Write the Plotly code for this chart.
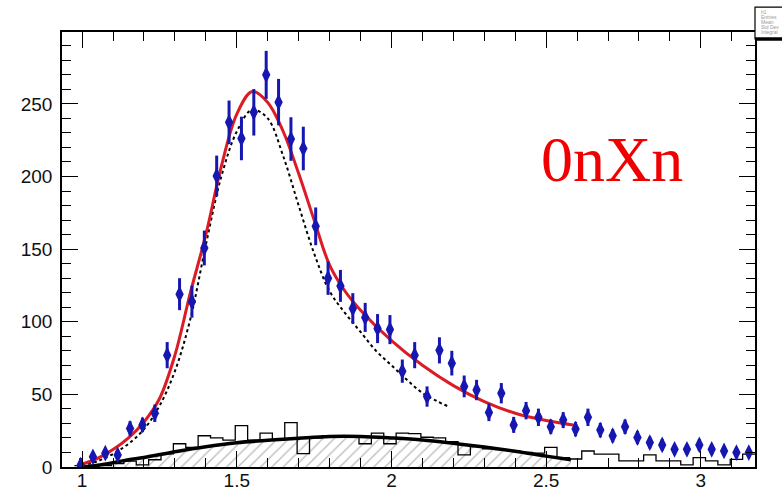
import plotly.graph_objects as go

# ---- measured spectrum (bin width 0.04) ----
bin_centers = [
    0.995, 1.035, 1.075, 1.115, 1.155, 1.195, 1.235, 1.275, 1.315, 1.355,
    1.395, 1.435, 1.475, 1.515, 1.555, 1.595, 1.635, 1.675, 1.715, 1.755,
    1.795, 1.835, 1.875, 1.915, 1.955, 1.995, 2.035, 2.075, 2.115, 2.155,
    2.195, 2.235, 2.275, 2.315, 2.355, 2.395, 2.435, 2.475, 2.515, 2.555,
    2.595, 2.635, 2.675, 2.715, 2.755, 2.795, 2.835, 2.875, 2.915, 2.955,
    2.995, 3.035, 3.075, 3.115, 3.155,
]
bin_width = 0.04

counts = [
    1.2, 7, 9.5, 8.3, 26.5, 29, 37, 77, 119, 113.8,
    150.8, 200.4, 237.3, 226.2, 244.2, 270, 251.2, 225.8, 219.3, 165.7,
    130, 124.7, 109.2, 103, 95.3, 94.6, 66, 77, 48.5, 80.3,
    71.5, 55.5, 53, 37.6, 50.8, 29, 38.8, 34.2, 27.7, 32.3,
    26.1, 34.2, 25.4, 21.5, 27.7, 20.3, 16.8, 15.2, 12.2, 12.2,
    15.2, 12.2, 11.1, 9.9, 9.9,
]
count_errors = [
    5, 3, 3, 3, 5, 5, 6, 9, 11, 11,
    12, 14, 15, 15, 16, 16.5, 16, 15, 15, 13,
    11.5, 11, 10.5, 10, 10, 10, 8, 9, 7, 9,
    8.5, 7.5, 7, 6, 7, 5.5, 6, 6, 5, 5.5,
    5, 6, 5, 4.5, 5, 4.5, 4, 4, 3.5, 3.5,
    4, 3.5, 3.3, 3.2, 3.2,
]

# ---- background template histogram (same binning) ----
template = [
    1, 0.5, 1, 2.3, 4, 1.5, 5, 9, 16, 13.5,
    21.5, 20, 18.5, 28.5, 18.5, 23.3, 18.5, 30.5, 9.2, 20,
    21.5, 21.5, 20.5, 16, 23.3, 16, 23.3, 23, 20.5, 20,
    17.5, 8.3, 14, 12.5, 12, 11, 10, 9.5, 13.5, 6.5,
    5.5, 11, 8.8, 8.8, 4.2, 4.2, 8.3, 4.2, 4.2, 1.4,
    6.5, 4.2, 1.4, 5.3, 8.8,
]

# ---- total fit ----
fit_x = [1.0, 1.05, 1.1, 1.15, 1.2, 1.25, 1.3, 1.35, 1.4, 1.45, 1.5, 1.55, 1.6,
         1.65, 1.7, 1.75, 1.8, 1.85, 1.9, 2.0, 2.1, 2.2, 2.3, 2.4, 2.5, 2.6]
fit_y = [2, 6, 12, 20, 31, 47, 77, 120, 160, 207, 243, 258.5, 251,
         231, 202, 170, 139, 121, 108, 87, 70, 56, 45, 37, 32, 28.5]

# ---- resonant component (dotted) ----
res_x = [1.0, 1.05, 1.1, 1.15, 1.2, 1.25, 1.3, 1.35, 1.4, 1.45, 1.5, 1.55, 1.6,
         1.65, 1.7, 1.75, 1.8, 1.85, 1.9, 1.95, 2.0, 2.05, 2.1, 2.15, 2.18]
res_y = [1, 4, 9, 16, 26, 42, 66, 102, 153, 200, 231, 246, 240,
         214, 180, 147, 121, 106, 93, 80, 70, 60, 51, 45, 42]

# ---- smooth background component ----
bkg_x = [1.0, 1.05, 1.1, 1.15, 1.2, 1.3, 1.4, 1.5, 1.6, 1.7, 1.8, 1.9, 2.0,
         2.1, 2.2, 2.3, 2.4, 2.5, 2.58]
bkg_y = [0, 1.2, 3, 5, 6.5, 10.5, 14, 16.7, 18.4, 19.8, 21, 21, 20,
         18.6, 16.3, 13.7, 10.8, 7.5, 5]

x_range = [0.935, 3.175]
y_range = [0, 299.5]

blue = "#1616b0"
red = "#dc1c24"

# step outline of the template histogram
edges = [round(c - bin_width / 2, 3) for c in bin_centers] + [round(bin_centers[-1] + bin_width / 2, 3)]
step_y = template + [template[-1]]

fig = go.Figure()

# hatched area under the smooth background
fig.add_trace(go.Scatter(
    x=bkg_x, y=bkg_y, mode="lines", line=dict(color="rgba(0,0,0,0)", width=0, shape="spline"),
    fill="tozeroy", fillcolor="rgba(0,0,0,0)",
    fillpattern=dict(shape="/", fgcolor="#808080", bgcolor="rgba(255,255,255,0)", size=8, solidity=0.18),
    hoverinfo="skip", showlegend=False,
))

fig.add_trace(go.Scatter(
    x=edges, y=step_y, mode="lines", line=dict(color="black", width=1.3, shape="hv"),
    showlegend=False,
))

fig.add_trace(go.Scatter(
    x=bkg_x, y=bkg_y, mode="lines", line=dict(color="black", width=3.5, shape="spline"),
    showlegend=False,
))

fig.add_trace(go.Scatter(
    x=res_x, y=res_y, mode="lines", line=dict(color="black", width=2, dash="dot", shape="spline"),
    showlegend=False,
))

fig.add_trace(go.Scatter(
    x=fit_x, y=fit_y, mode="lines", line=dict(color=red, width=3, shape="spline"),
    showlegend=False,
))

fig.add_trace(go.Scatter(
    x=bin_centers, y=counts, mode="markers",
    marker=dict(symbol="diamond-tall", size=12, color=blue),
    error_y=dict(type="data", array=count_errors, color=blue, thickness=3, width=0),
    showlegend=False,
))

axis_common = dict(
    showline=True, linecolor="black", linewidth=1.5, mirror="allticks",
    ticks="inside", ticklen=16, tickwidth=1.2, tickcolor="black",
    showgrid=False, zeroline=False, automargin=False,
    tickfont=dict(family="Liberation Sans, Arial, sans-serif", size=19, color="#111111"),
)

fig.update_xaxes(
    range=x_range, tick0=1, dtick=0.5,
    minor=dict(ticks="inside", ticklen=9, tickwidth=1.2, tickcolor="black", tick0=1, dtick=0.1),
    ticklabelstandoff=-5,
    **axis_common,
)
fig.update_yaxes(
    range=y_range, tick0=0, dtick=50,
    minor=dict(ticks="inside", ticklen=9, tickwidth=1.2, tickcolor="black", tick0=0, dtick=10),
    ticklabelstandoff=4,
    **axis_common,
)

# channel label
fig.add_annotation(
    x=0.794, y=0.706, xref="paper", yref="paper", text="0nXn", showarrow=False,
    font=dict(family="Liberation Serif, Times New Roman, serif", size=64, color="#f00000"),
    xanchor="center", yanchor="middle",
)

# statistics box peeking in at the top-right corner
fig.add_shape(type="rect", xref="paper", yref="paper", x0=1.0, x1=1.06, y0=0.984, y1=1.057,
              line=dict(color="black", width=1.2), fillcolor="white", layer="above")
fig.add_shape(type="line", xref="paper", yref="paper", x0=1.0, x1=1.06, y0=0.984, y1=0.984,
              line=dict(color="black", width=3.5), layer="above")
for i, label in enumerate(["h1", "Entries", "Mean", "Std Dev", "Integral"]):
    fig.add_annotation(
        x=1.006, y=1.047 - i * 0.012, xref="paper", yref="paper", text=label, showarrow=False,
        font=dict(family="Liberation Sans, Arial, sans-serif", size=5, color="#9a9a9a"),
        xanchor="left", yanchor="middle",
    )

fig.update_layout(
    width=782, height=495,
    margin=dict(l=62, r=27, t=32, b=28, autoexpand=False),
    paper_bgcolor="white", plot_bgcolor="white",
    showlegend=False,
)

fig.write_html("out.html")
